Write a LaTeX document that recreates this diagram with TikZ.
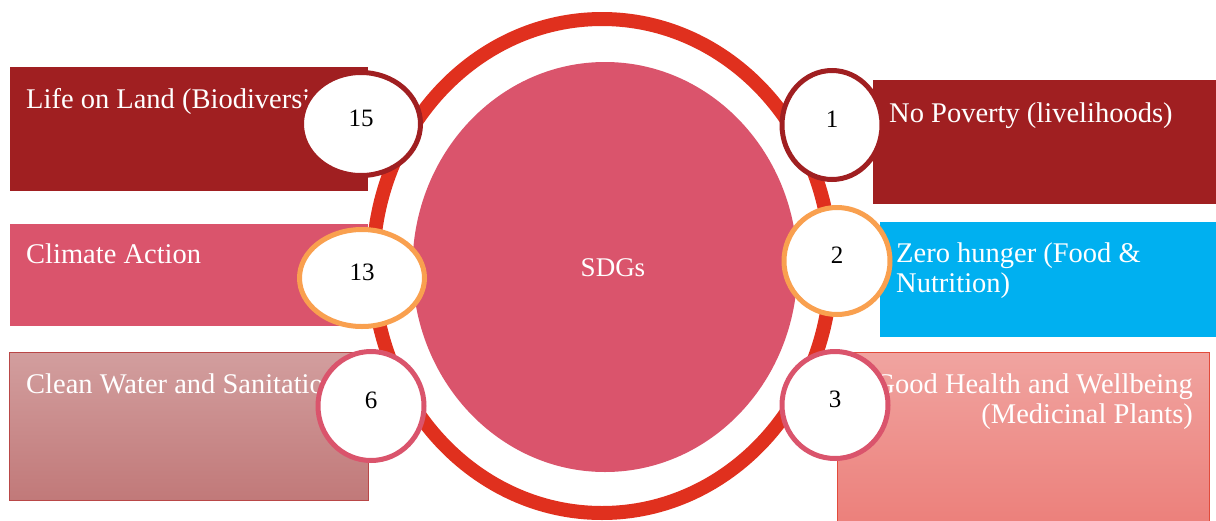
\documentclass[tikz,border=0pt]{standalone}
\usepackage{fontspec}
\setmainfont{Liberation Serif}
\usetikzlibrary{shapes.geometric}

\definecolor{sdgred}{HTML}{A01F21}
\definecolor{sdgrose}{HTML}{DA546C}
\definecolor{sdgcyan}{HTML}{00B0F0}
\definecolor{sdgring}{HTML}{E0301E}
\definecolor{sdgorange}{HTML}{F9A04F}
\definecolor{watertop}{HTML}{D29E9E}
\definecolor{waterbot}{HTML}{C17979}
\definecolor{waterline}{HTML}{B94747}
\definecolor{healthtop}{HTML}{F0A4A0}
\definecolor{healthbot}{HTML}{EC7E79}
\definecolor{healthline}{HTML}{E24B3B}

\tikzset{
	goalbox/.style={rectangle, anchor=north west, inner sep=0pt},
	goaltext/.style={text=white, inner sep=0pt, font=\fontsize{28.5}{30}\selectfont},
	goalnum/.style={ellipse, fill=white, line width=5pt, inner sep=0pt,
		text depth=12pt, font=\fontsize{25}{26}\selectfont}
}

\begin{document}
\begin{tikzpicture}[x=1pt,y=-1pt]
	\useasboundingbox (0,0) rectangle (1216,520);
	\fill[white] (0,0) rectangle (1216,520);
	% ring and centre disc
	\draw[sdgring, line width=14pt] (602,266) ellipse [x radius=229, y radius=247];
	\node[ellipse, fill=sdgrose, minimum width=385pt, minimum height=410pt] (sdg) at (605,267) {};
	\node[text=white, font=\fontsize{27}{30}\selectfont] (s) at (613,268) {SDGs};
	% boxes on the left
	\node[goalbox, fill=sdgred, minimum width=358pt, minimum height=124pt] (land) at (10,67) {};
	\node[goalbox, fill=sdgrose, minimum width=358pt, minimum height=102pt] (clim) at (10,224) {};
	\node[goalbox, draw=waterline, top color=watertop, bottom color=waterbot, minimum width=359pt, minimum height=148pt] (water) at (9,352) {};
	\node[goaltext, anchor=base west] (t15) at (26,108) {Life on Land (Biodiversity)};
	\node[goaltext, anchor=base west] (t13) at (26,263) {Climate Action};
	\node[goaltext, anchor=base west] (t6) at (26,393) {Clean Water and Sanitation};
	% boxes on the right
	\node[goalbox, fill=sdgred, minimum width=343pt, minimum height=124pt] (pov) at (873,80) {};
	\node[goalbox, fill=sdgcyan, minimum width=336pt, minimum height=115pt] (food) at (880,222) {};
	\node[goalbox, draw=healthline, top color=healthtop, bottom color=healthbot, minimum width=372pt, minimum height=180pt] (health) at (837,352) {};
	\node[goaltext, anchor=base west] (t1) at (889,122) {No Poverty (livelihoods)};
	% two-line labels sit on their last baseline
	\node[goaltext, anchor=base west, align=left] (t2) at (896,292) {Zero hunger (Food \&\\Nutrition)};
	\node[goaltext, anchor=base east, align=right] (t3) at (1193,423) {Good Health and Wellbeing\\(Medicinal Plants)};
	% numbered goals
	\node[goalnum, draw=sdgred, minimum width=119pt, minimum height=103pt] (g15) at (361,124) {15};
	\node[goalnum, draw=sdgorange, minimum width=125pt, minimum height=97pt] (g13) at (362,278) {13};
	\node[goalnum, draw=sdgrose, minimum width=106pt, minimum height=109pt] (g6) at (371,406) {6};
	\node[goalnum, draw=sdgred, minimum width=100pt, minimum height=109pt] (g1) at (832,125) {1};
	\node[goalnum, draw=sdgorange, minimum width=106pt, minimum height=107pt] (g2) at (837,261) {2};
	\node[goalnum, draw=sdgrose, minimum width=106pt, minimum height=107pt] (g3) at (835,405) {3};
\end{tikzpicture}
\end{document}
